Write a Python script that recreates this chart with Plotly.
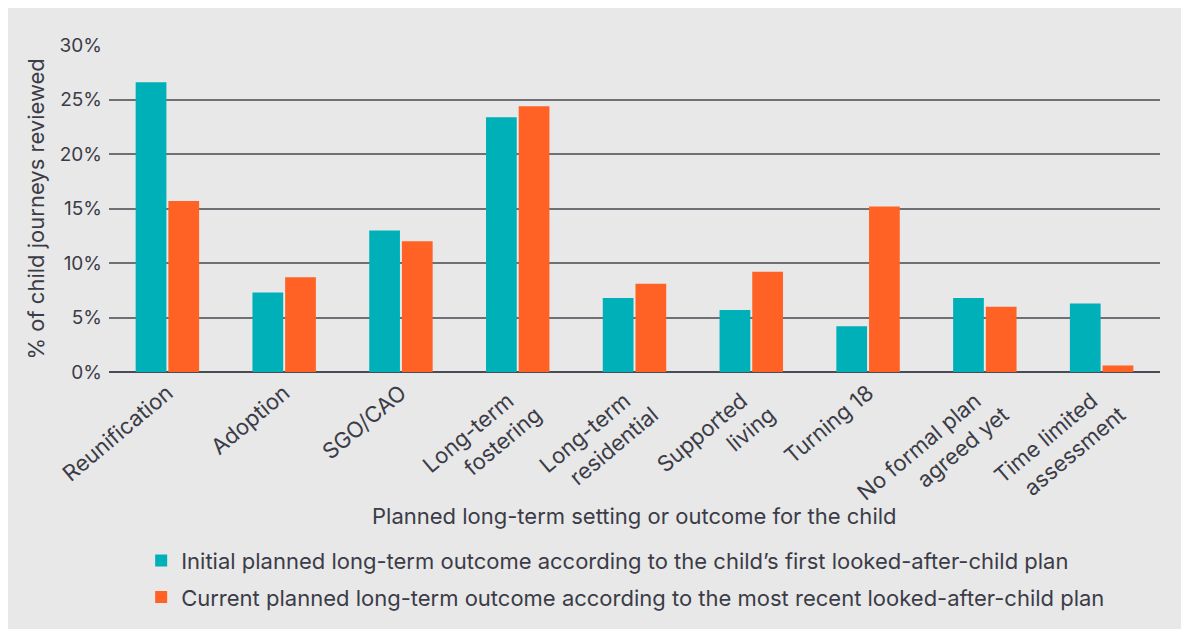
import plotly.graph_objects as go

categories = ["Reunification", "Adoption", "SGO/CAO", "Long-term fostering",
              "Long-term residential", "Supported living", "Turning 18",
              "No formal plan agreed yet", "Time limited assessment"]
tick_labels = ["Reunification", "Adoption", "SGO/CAO",
               "Long-term\u00a0\u00a0<br>fostering",
               "Long-term\u00a0\u00a0<br>residential",
               "Supported\u00a0\u00a0<br>living", "Turning 18",
               "No formal plan\u00a0\u00a0<br>agreed yet",
               "Time limited\u00a0\u00a0<br>assessment"]
initial_plan = [26.6, 7.3, 13.0, 23.4, 6.8, 5.7, 4.2, 6.8, 6.3]
current_plan = [15.7, 8.7, 12.0, 24.4, 8.1, 9.2, 15.2, 6.0, 0.6]
series_names = [
    "Initial planned long-term outcome according to the child\u2019s first looked-after-child plan",
    "Current planned long-term outcome according to the most recent looked-after-child plan",
]
y_ticks = [0, 5, 10, 15, 20, 25, 30]
y_tick_labels = ["0%", "5%", "10%", "15%", "20%", "25%", "30%"]
x_title = "Planned long-term setting or outcome for the child"
y_title = "% of child journeys reviewed"

TEAL = "#00B0B9"
ORANGE = "#FF6224"
BG = "#E8E8E8"
TXT = "#3B3C47"
FONT = "Inter, Open Sans, sans-serif"

fig = go.Figure()
fig.add_trace(go.Bar(x=categories, y=initial_plan, name=series_names[0],
                     marker=dict(color=TEAL, line=dict(width=0)), legendgroup="a"))
fig.add_trace(go.Bar(x=categories, y=current_plan, name=series_names[1],
                     marker=dict(color=ORANGE, line=dict(width=0)), legendgroup="b"))

fig.update_layout(
    width=1189, height=629,
    paper_bgcolor=BG, plot_bgcolor=BG,
    margin=dict(l=101, r=37, t=37, b=264.5, autoexpand=False),
    barmode="group", bargap=0.44, bargroupgap=0.06,
    font=dict(family=FONT, size=22, color=TXT),
    legend=dict(orientation="v", x=0.112, xref="container", xanchor="left",
                y=0.092, yref="container", yanchor="middle",
                font=dict(size=22, color=TXT), traceorder="grouped",
                tracegroupgap=5, bgcolor="rgba(0,0,0,0)", itemclick=False),
    showlegend=True,
    annotations=[
        dict(text=x_title, xref="paper", yref="paper", x=0.5, y=-0.441,
             xanchor="center", yanchor="middle", showarrow=False,
             font=dict(size=22, color=TXT)),
        dict(text=y_title, xref="paper", yref="paper", x=-0.0695, y=0.5,
             xanchor="center", yanchor="middle", showarrow=False, textangle=-90,
             font=dict(size=22, color=TXT)),
    ],
)
fig.update_xaxes(
    tickmode="array", tickvals=categories, ticktext=tick_labels,
    tickangle=-40, showgrid=False, zeroline=False, showline=False, ticks="",
    tickfont=dict(size=22, color=TXT), automargin=False, ticklabelstandoff=3,
)
fig.update_yaxes(
    range=[0, 30.03], tickvals=y_ticks, ticktext=y_tick_labels,
    showgrid=True, gridcolor="#6E7076", gridwidth=1.6,
    zeroline=True, zerolinecolor="#4A4C55", zerolinewidth=2,
    showline=False, ticks="", ticklabelstandoff=6, automargin=False,
    tickfont=dict(size=19, color=TXT),
)

fig.write_html("out.html")
